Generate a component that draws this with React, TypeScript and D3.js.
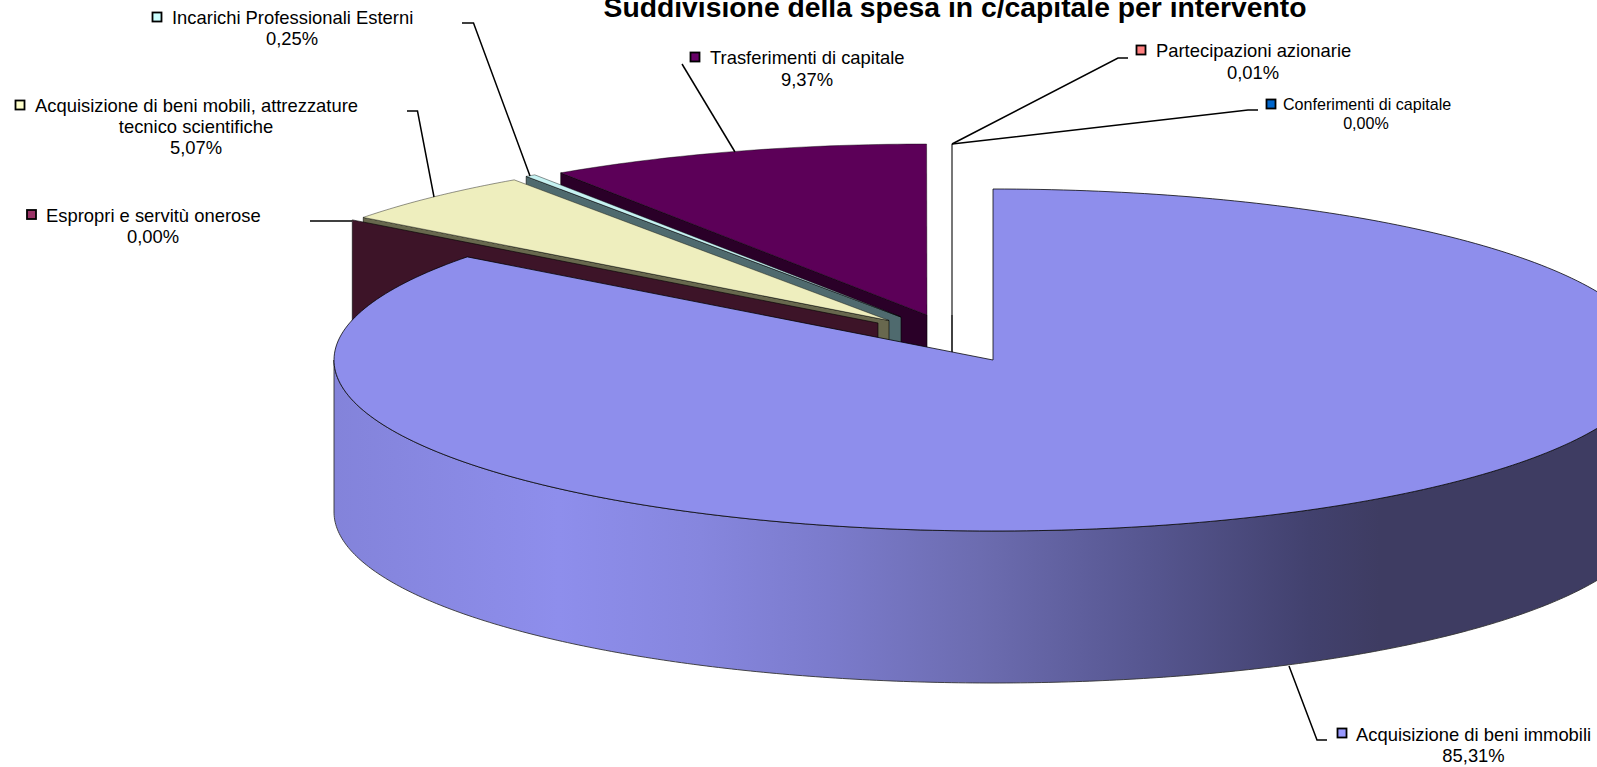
import React from "react";
import * as d3 from "d3";

const categories = [
  "Acquisizione di beni immobili",
  "Espropri e servitù onerose",
  "Acquisizione di beni mobili, attrezzature tecnico scientifiche",
  "Incarichi Professionali Esterni",
  "Trasferimenti di capitale",
  "Partecipazioni azionarie",
  "Conferimenti di capitale",
];
const values = [85.31, 0.0, 5.07, 0.25, 9.37, 0.01, 0.0];
const valueLabels = ["85,31%", "0,00%", "5,07%", "0,25%", "9,37%", "0,01%", "0,00%"];
const topColors = ["#8e8eec", "#993366", "#eeeebe", "#c6f2f2", "#5c0058", "#ff8080", "#0066cc"];
const wallColors = ["#8e8eec", "#3d1428", "#68684e", "#4f6a6e", "#2a0028", "#6b3a3a", "#00264d"];
const keyColors = ["#9999ff", "#993366", "#ffffcc", "#ccffff", "#660066", "#ff8080", "#0066cc"];

const W = 1597;
const H = 767;
const RX = 659;
const RY = 171;
const DEPTH = 152;
const centers: [number, number][] = [
  [993, 360],
  [878, 323],
  [889, 320.5],
  [901, 317],
  [927, 315],
  [952, 315],
  [952, 315],
];

type Label = { lines: string[]; x: number; cx: number; base: number; step: number; size: number; key: [number, number]; leader: [number, number][] };
const labels: Label[] = [
  { lines: ["Acquisizione di beni immobili"], x: 1356, cx: 1473.5, base: 740.5, step: 21.5, size: 18.4, key: [1337, 728], leader: [[1289, 666], [1317, 740], [1327, 740]] },
  { lines: ["Espropri e servitù onerose"], x: 46, cx: 153, base: 222, step: 21, size: 18.4, key: [26.5, 209.5], leader: [[352, 221], [310, 221]] },
  { lines: ["Acquisizione di beni mobili, attrezzature", "tecnico scientifiche"], x: 35, cx: 196, base: 112, step: 21, size: 18.4, key: [15, 100], leader: [[434, 197], [417.5, 111], [407, 111]] },
  { lines: ["Incarichi Professionali Esterni"], x: 172, cx: 292, base: 24, step: 21, size: 18.4, key: [152, 12], leader: [[530, 176], [473.5, 23], [462, 23]] },
  { lines: ["Trasferimenti di capitale"], x: 710, cx: 807, base: 64, step: 22, size: 18.4, key: [690, 52], leader: [[735, 152], [682, 64]] },
  { lines: ["Partecipazioni azionarie"], x: 1156, cx: 1253, base: 57, step: 22, size: 18.4, key: [1136, 45], leader: [[952, 144], [1118, 58], [1128, 58]] },
  { lines: ["Conferimenti di capitale"], x: 1283, cx: 1366, base: 110, step: 19, size: 16.1, key: [1266, 99], leader: [[952, 144], [1248, 110], [1258, 110]] },
];

const wallStops: [number, string][] = [
  [0, "#8383da"],
  [0.17, "#8e8eec"],
  [0.278, "#8686de"],
  [0.375, "#7b7bcc"],
  [0.49, "#6c6cb0"],
  [0.618, "#565690"],
  [0.74, "#42416e"],
  [0.794, "#3e3c62"],
  [1, "#3e3c62"],
];

const pie = d3.pie<number>().sort(null).value((d) => d)(values);

function pt(c: [number, number], t: number): [number, number] {
  return [c[0] + RX * Math.sin(t), c[1] - RY * Math.cos(t)];
}
const line = d3.line<[number, number]>();

function arcPts(c: [number, number], a: number, b: number, n = 120): [number, number][] {
  return d3.range(n + 1).map((i) => pt(c, a + ((b - a) * i) / n));
}

export default function App() {
  const slices = pie.map((s, i) => ({ s, c: centers[i], i }));
  const big = slices[0];
  const bigTop = [big.c, ...arcPts(big.c, big.s.startAngle, big.s.endAngle, 300)] as [number, number][];
  const bigWallTop = arcPts(big.c, Math.PI / 2, (3 * Math.PI) / 2, 300);
  const bigWall = [
    ...bigWallTop,
    ...bigWallTop.slice().reverse().map(([x, y]) => [x, y + DEPTH] as [number, number]),
  ];
  const order = [4, 3, 2, 1];
  return (
    <svg
      width={W}
      height={H}
      viewBox={`0 0 ${W} ${H}`}
      style={{ position: "absolute", left: 0, top: 0, display: "block", background: "#fff" }}
      fontFamily="'Liberation Sans', Arial, sans-serif"
    >
      <defs>
        <linearGradient id="wall" gradientUnits="userSpaceOnUse" x1={big.c[0] - RX} x2={big.c[0] + RX} y1={0} y2={0}>
          {wallStops.map(([o, col]) => (
            <stop key={o} offset={o} stopColor={col} />
          ))}
        </linearGradient>
      </defs>
      <text x={955} y={17} textAnchor="middle" fontSize={28.3} fontWeight="bold" fill="#000">
        Suddivisione della spesa in c/capitale per intervento
      </text>

      {/* thin slices at the top */}
      <line x1={952} x2={952} y1={centers[5][1] - RY} y2={centers[5][1]} stroke="#777" strokeWidth={2} />
      <line x1={952} x2={952} y1={centers[5][1]} y2={centers[5][1] + DEPTH} stroke="#111" strokeWidth={1.6} />

      {order.map((i) => {
        const { s, c } = slices[i];
        const a = pt(c, s.startAngle);
        const wall: [number, number][] = [a, c, [c[0], c[1] + DEPTH], [a[0], a[1] + DEPTH]];
        const top: [number, number][] = [c, ...arcPts(c, s.startAngle, s.endAngle, 40)];
        return (
          <g key={i}>
            <path d={line(wall) + "Z"} fill={wallColors[i]} stroke="#000" strokeWidth={0.6} />
            {s.endAngle > s.startAngle && (
              <path d={line(top) + "Z"} fill={topColors[i]} stroke="#000" strokeWidth={0.6} strokeOpacity={0.7} />
            )}
          </g>
        );
      })}

      <path d={line(bigWall) + "Z"} fill="url(#wall)" stroke="#333" strokeWidth={0.9} />
      <path d={line(bigTop) + "Z"} fill={topColors[0]} stroke="#000" strokeWidth={0.9} strokeOpacity={0.85} />

      {labels.map((l, i) => (
        <g key={i}>
          <path d={line(l.leader) ?? ""} fill="none" stroke="#000" strokeWidth={1.5} />
          <rect x={l.key[0] + 0.5} y={l.key[1] + 0.5} width={9} height={9} fill={keyColors[i]} stroke="#000" strokeWidth={1.8} />
          {l.lines.map((t, j) => (
            <text key={j} x={j === 0 ? l.x : l.cx} y={l.base + j * l.step} textAnchor={j === 0 ? "start" : "middle"} fontSize={l.size} fill="#000">
              {t}
            </text>
          ))}
          <text x={l.cx} y={l.base + l.lines.length * l.step} textAnchor="middle" fontSize={l.size} fill="#000">
            {valueLabels[i]}
          </text>
        </g>
      ))}
    </svg>
  );
}
